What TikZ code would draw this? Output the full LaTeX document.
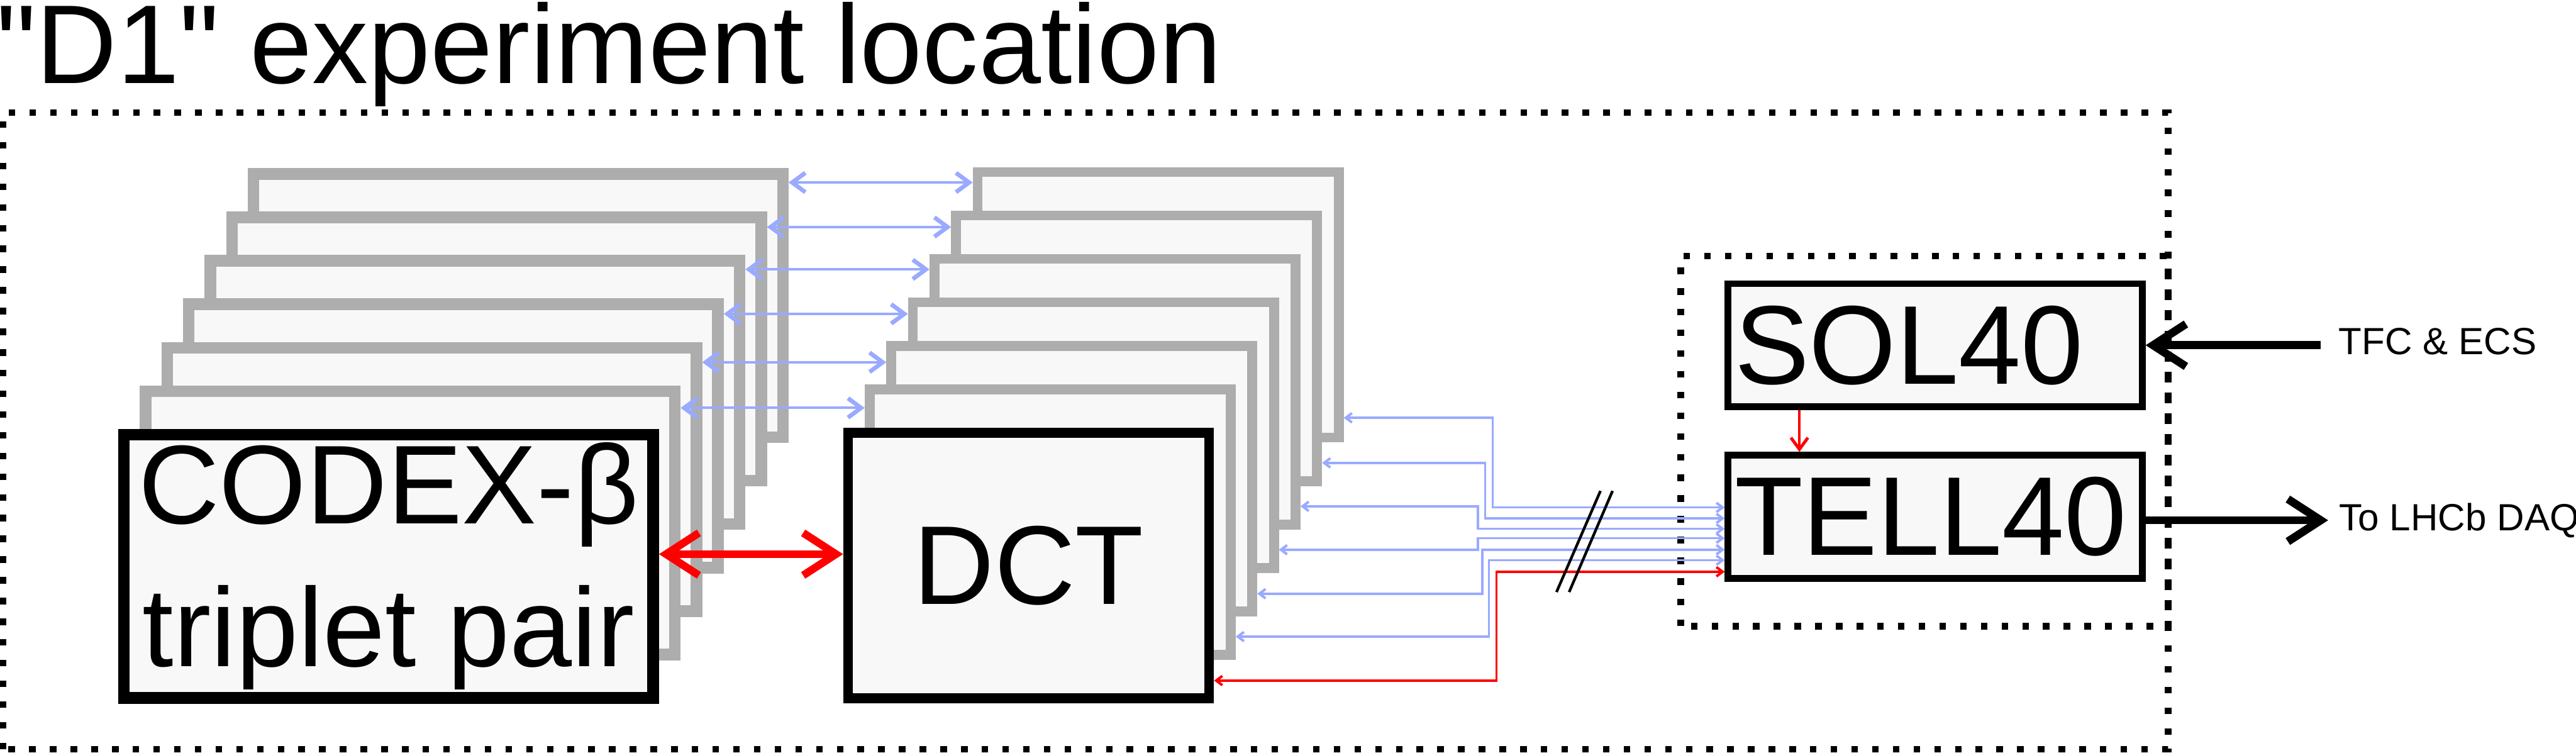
\documentclass[tikz,border=0pt]{standalone}
\usepackage{fontspec}
\setmainfont{Liberation Sans}
\usetikzlibrary{arrows.meta}
\definecolor{boxgray}{HTML}{ADADAD}
\definecolor{boxfill}{HTML}{F8F8F8}
\definecolor{fiberblue}{HTML}{99AAFF}

\begin{document}
\begin{tikzpicture}[
      big/.style={font=\fontsize{29}{37}\selectfont},
      zone/.style={draw,line width=1.7pt,dash pattern=on 1.7pt off 3.66pt},
      cdxback/.style={draw=boxgray,fill=boxfill,line width=3pt,minimum width=4.815cm,minimum height=2.395cm,inner sep=0pt},
      cdxfront/.style={cdxback,draw=black,big,align=center},
      dctback/.style={draw=boxgray,fill=boxfill,line width=2.56pt,minimum width=3.285cm,minimum height=2.415cm,inner sep=0pt},
      dctfront/.style={dctback,draw=black,big},
      board/.style={draw,fill=boxfill,line width=1.7pt,minimum width=3.77cm,minimum height=1.12cm,inner xsep=0.06cm,inner ysep=0pt,text width=3.65cm,align=left,big},
      tag/.style={font=\fontsize{9.8}{12}\selectfont,inner ysep=0pt},
      biglink/.style={red,line width=2pt,>={Straight Barb[length=8.5pt,width=11pt,sharp]},<->},
      bigarr/.style={line width=2.1pt,>={Straight Barb[length=8.5pt,width=11pt,sharp]},->},
      link/.style={fiberblue,line width=0.64pt,>={Straight Barb[length=3.4pt,width=5pt,line width=1.1pt,sharp]},<->},
      fiber/.style={fiberblue,line width=0.57pt,>={Straight Barb[length=1.6pt,width=2.4pt,line width=0.65pt]},<->},
      fiberred/.style={fiber,red},
      clk/.style={red,line width=0.57pt,>={Straight Barb[length=3pt,width=4.4pt,line width=0.8pt,sharp]},->}]
  \useasboundingbox (0,0) rectangle (23.435,6.845);
  \node[big,anchor=base west,inner sep=0pt] (title) at (-0.04,6.085) {\textquotedbl D1\textquotedbl{} experiment location};
  % dotted zones
  \draw[zone] (0.03,0.03) rectangle (19.725,5.82);
  \draw[zone] (15.29,1.15) rectangle (19.725,4.515);
  % CODEX-beta stack
  \foreach \k in {6,...,1}
    \node[cdxback] (cdx\k) at (3.535+\k*0.1965,1.695+\k*0.395) {};
  \node[cdxfront] (codex) at (3.535,1.695) {CODEX-β\\triplet pair};
  % DCT stack
  \foreach \k in {6,...,1}
    \node[dctback] (dct\k) at (9.3575+\k*0.1965,1.7025+\k*0.395) {};
  \node[dctfront] (dct) at (9.3575,1.7025) {DCT};
  % counting room boards
  \node[board] (sol) at (17.605,3.705) {SOL40};
  \node[board] (tell) at (17.605,2.145) {TELL40};
  \node[tag,anchor=west,inner xsep=0.16cm] (tfc) at (21.11,3.74) {TFC \& ECS};
  \node[tag,anchor=west,inner xsep=0.095cm] (daq) at (21.18,2.113) {To LHCb DAQ};
  % links between the two stacks
  \foreach \k/\y in {6/5.185,5/4.78,4/4.395,3/3.99,2/3.55,1/3.135}
    \draw[link] (cdx\k.east |- 0,\y) -- (dct\k.west |- 0,\y);
  \draw[biglink] (codex.east |- 0,1.805) -- (dct.west |- 0,1.805);
  % fibres to TELL40
  \foreach \k/\ya/\vx/\yb in {6/3.045/13.58/2.23,5/2.635/13.51/2.13,4/2.24/13.445/2.035,
                             3/1.845/13.445/1.95,2/1.445/13.485/1.845,1/1.055/13.545/1.75}
    \draw[fiber] (dct\k.east |- 0,\ya) -| (\vx,\yb) -- (tell.west |- 0,\yb);
  \draw[fiberred] (dct.east |- 0,0.655) -| (13.615,1.645) -- (tell.west |- 0,1.645);
  \draw[line width=0.7pt] (14.16,1.46) -- (14.56,2.38) (14.275,1.46) -- (14.67,2.38);
  % timing and output
  \draw[clk] (sol.south -| 16.37,0) -- (tell.north -| 16.37,0);
  \draw[bigarr] (tfc.west |- sol.east) -- (sol.east);
  \draw[bigarr] (tell.east |- daq.west) -- (daq.west);
\end{tikzpicture}
\end{document}
